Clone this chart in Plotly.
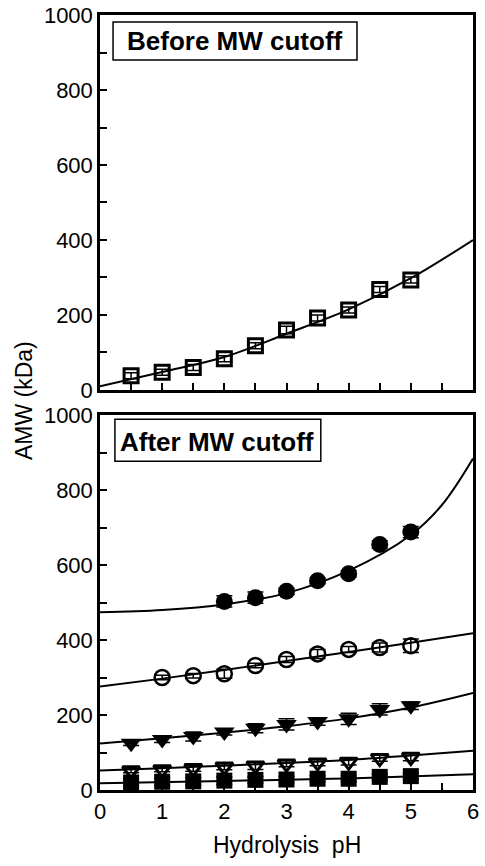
import plotly.graph_objects as go
from plotly.subplots import make_subplots

# ---- data ----
ph = [0.5, 1.0, 1.5, 2.0, 2.5, 3.0, 3.5, 4.0, 4.5, 5.0]

# Top panel: before MW cutoff
before_amw = [38, 47, 60, 83, 118, 160, 192, 213, 268, 293]
before_err = [8, 8, 8, 8, 8, 10, 8, 8, 8, 8]
before_fit_x = [0, 1, 2, 3, 4, 5, 6]
before_fit_y = [10, 48, 88, 150, 215, 298, 400]

# Bottom panel: after MW cutoff
fc_x = [2.0, 2.5, 3.0, 3.5, 4.0, 4.5, 5.0]
fc_y = [503, 513, 530, 558, 577, 655, 688]
fc_err = [15, 15, 8, 8, 8, 10, 15]
fc_fit_x = [0, 1, 2, 3, 4, 5, 5.5, 6]
fc_fit_y = [474, 480, 495, 525, 585, 680, 760, 884]

oc_x = [1.0, 1.5, 2.0, 2.5, 3.0, 3.5, 4.0, 4.5, 5.0]
oc_y = [300, 305, 310, 332, 348, 363, 375, 380, 385]
oc_err = [6, 6, 12, 6, 8, 12, 8, 12, 18]
oc_fit_x = [0, 1, 2, 3, 4, 5, 6]
oc_fit_y = [276, 297, 320, 344, 368, 393, 418]

ft_y = [125, 135, 143, 155, 165, 175, 183, 190, 215, 225]
ft_err = [6, 8, 12, 8, 12, 15, 10, 15, 15, 10]
ft_fit_x = [0, 1, 2, 3, 4, 5, 6]
ft_fit_y = [124, 138, 153, 170, 191, 220, 259]

ot_y = [52, 55, 58, 62, 65, 70, 73, 75, 85, 88]
ot_err = [6, 6, 8, 8, 10, 8, 8, 8, 8, 10]
ot_fit_x = [0, 1, 2, 3, 4, 5, 6]
ot_fit_y = [52, 58, 65, 72, 80, 92, 105]

fs_y = [20, 22, 23, 25, 27, 28, 30, 30, 35, 37]
fs_err = [10, 10, 10, 10, 8, 8, 8, 8, 8, 8]
fs_fit_x = [0, 2, 4, 6]
fs_fit_y = [18, 24, 31, 42]

x_ticks = [0, 1, 2, 3, 4, 5, 6]
y_ticks = [0, 200, 400, 600, 800, 1000]

fig = make_subplots(rows=2, cols=1, vertical_spacing=0.0323)

BLACK = "black"
line_style = dict(color=BLACK, width=2, shape="spline")


def err(vals):
    return dict(type="data", array=vals, color=BLACK, thickness=1.5, width=8)


# top panel
fig.add_trace(go.Scatter(x=before_fit_x, y=before_fit_y, mode="lines", line=line_style,
                         showlegend=False), row=1, col=1)
fig.add_trace(go.Scatter(x=ph, y=before_amw, mode="markers", error_y=err(before_err),
                         marker=dict(symbol="square-open", size=14, color=BLACK,
                                     line=dict(width=3, color=BLACK)),
                         showlegend=False), row=1, col=1)

# bottom panel fits
for fx, fy in [(fc_fit_x, fc_fit_y), (oc_fit_x, oc_fit_y), (ft_fit_x, ft_fit_y),
               (ot_fit_x, ot_fit_y), (fs_fit_x, fs_fit_y)]:
    fig.add_trace(go.Scatter(x=fx, y=fy, mode="lines", line=line_style, showlegend=False),
                  row=2, col=1)

fig.add_trace(go.Scatter(x=fc_x, y=fc_y, mode="markers", error_y=err(fc_err),
                         marker=dict(symbol="circle", size=17, color=BLACK),
                         showlegend=False), row=2, col=1)
fig.add_trace(go.Scatter(x=oc_x, y=oc_y, mode="markers", error_y=err(oc_err),
                         marker=dict(symbol="circle-open", size=15, color=BLACK,
                                     line=dict(width=2.5, color=BLACK)),
                         showlegend=False), row=2, col=1)
fig.add_trace(go.Scatter(x=ph, y=ft_y, mode="markers", error_y=err(ft_err),
                         marker=dict(symbol="triangle-down", size=18, color=BLACK),
                         showlegend=False), row=2, col=1)
fig.add_trace(go.Scatter(x=ph, y=ot_y, mode="markers", error_y=err(ot_err),
                         marker=dict(symbol="triangle-down-open", size=15, color=BLACK,
                                     line=dict(width=3, color=BLACK)),
                         showlegend=False), row=2, col=1)
fig.add_trace(go.Scatter(x=ph, y=fs_y, mode="markers", error_y=err(fs_err),
                         marker=dict(symbol="square", size=16, color=BLACK),
                         showlegend=False), row=2, col=1)

FONT = "Liberation Sans, Arial, sans-serif"
axis_common = dict(showline=True, linecolor=BLACK, linewidth=2.5, mirror=True,
                   showgrid=False, zeroline=False, ticks="inside", tickcolor=BLACK,
                   tickwidth=1.5, ticklen=7, automargin=False,
                   tickfont=dict(family=FONT, size=22, color=BLACK))

for r in (1, 2):
    fig.update_xaxes(range=[0, 6], tickvals=x_ticks,
                     minor=dict(dtick=0.5, ticks="inside", ticklen=7, tickcolor=BLACK,
                                tickwidth=1.5),
                     row=r, col=1, **axis_common)
    fig.update_yaxes(range=[0, 1000], tickvals=y_ticks,
                     minor=dict(dtick=100, ticks="inside", ticklen=7, tickcolor=BLACK,
                                tickwidth=1.5),
                     row=r, col=1, **axis_common)

fig.update_xaxes(showticklabels=False, row=1, col=1)

# label boxes
fig.add_shape(type="rect", xref="x domain", yref="y domain", x0=0.035, x1=0.689,
              y0=0.88, y1=0.981, line=dict(color=BLACK, width=1.5), fillcolor="white",
              layer="above")
fig.add_annotation(text="<b>Before MW cutoff</b>", xref="x domain", yref="y domain",
                   x=0.362, y=0.931, xanchor="center", yanchor="middle", showarrow=False,
                   font=dict(family=FONT, size=26, color=BLACK))
fig.add_shape(type="rect", xref="x2 domain", yref="y2 domain", x0=0.040, x1=0.592,
              y0=0.877, y1=0.989, line=dict(color=BLACK, width=1.5), fillcolor="white",
              layer="above")
fig.add_annotation(text="<b>After MW cutoff</b>", xref="x2 domain", yref="y2 domain",
                   x=0.315, y=0.928, xanchor="center", yanchor="middle", showarrow=False,
                   font=dict(family=FONT, size=26, color=BLACK))

fig.add_annotation(text="AMW (kDa)", xref="paper", yref="paper", x=-0.204, y=0.503,
                   xanchor="center", yanchor="middle", textangle=-90, showarrow=False,
                   font=dict(family=FONT, size=23, color=BLACK))
fig.add_annotation(text="Hydrolysis  pH", xref="paper", yref="paper", x=0.5, y=-0.071,
                   xanchor="center", yanchor="middle", showarrow=False,
                   font=dict(family=FONT, size=23, color=BLACK))

fig.update_layout(width=485, height=866, margin=dict(l=100, r=12, t=15, b=76),
                  paper_bgcolor="white", plot_bgcolor="white",
                  font=dict(family=FONT, color=BLACK))

fig.write_html("out.html", config={"displayModeBar": False},
               post_script="document.body.style.margin='0';document.body.style.overflow='hidden';")
